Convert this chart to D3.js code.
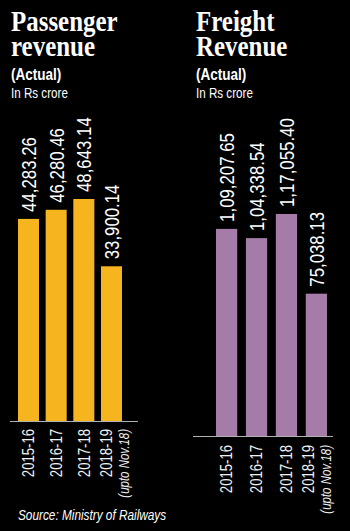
<!DOCTYPE html>
<html><head><meta charset="utf-8">
<script src="https://cdn.jsdelivr.net/npm/d3@7"></script>
<style>
html,body{margin:0;padding:0;background:#000;}
svg{display:block;}
.narrow{font-family:"Liberation Sans",Arial,Helvetica,sans-serif;}
.serif{font-family:"Liberation Serif","Times New Roman",serif;font-weight:bold;}
</style></head>
<body>
<script>
// ---- data ----
const categories = ["2015-16", "2016-17", "2017-18", "2018-19"];
const partialNote = "(upto Nov.18)";
const passengerValues = [44283.26, 46280.46, 48643.14, 33900.14];
const freightValues = [109207.65, 104338.54, 117055.40, 75038.13];
const passengerTitle = ["Passenger", "revenue"];
const freightTitle = ["Freight", "Revenue"];
const subtitle = "(Actual)";
const unitLabel = "In Rs crore";
const sourceText = "Source: Ministry of Railways";

// Indian number grouping, e.g. 1,09,207.65
function fmtIN(v){
  const s = v.toFixed(2);
  let [int, dec] = s.split(".");
  let last3 = int.slice(-3), rest = int.slice(0, -3);
  if (rest.length) rest = rest.replace(/\B(?=(\d{2})+(?!\d))/g, ",") + ",";
  return rest + last3 + "." + dec;
}

const W = 350, H = 531;
const NARROW = 0.82; // horizontal compression to mimic a condensed face
const svg = d3.select("body").append("svg").attr("width", W).attr("height", H);
svg.append("rect").attr("width", W).attr("height", H).attr("fill", "#000");

const panels = [
  {title: passengerTitle, values: passengerValues, color: "#f6b51f",
   tx: 11, xRange: [18, 122], pad: 0.24, base: 421, top: 199,
   axis: [10, 138], lblGap: 8, offA: -5, offB: 12},
  {title: freightTitle, values: freightValues, color: "#a57ba8",
   tx: 196, xRange: [216, 327], pad: 0.29, base: 436, top: 214,
   axis: [193, 333], lblGap: 9, offA: -8, offB: 10}
];

panels.forEach(p => {
  const g = svg.append("g");
  // title (two lines wrapped in one text)
  const tt = g.append("text").attr("class", "serif")
    .attr("transform", `translate(${p.tx},31) scale(0.86,1)`)
    .attr("font-size", 29).attr("fill", "#fff");
  p.title.forEach((t, i) => {
    tt.append("tspan").attr("x", 0).attr("y", i * 24.5).text(t);
  });
  g.append("text").attr("class", "narrow")
    .attr("transform", `translate(${p.tx},80) scale(${NARROW},1)`)
    .attr("font-size", 16.5).attr("font-weight", "bold").attr("fill", "#fff").text(subtitle);
  g.append("text").attr("class", "narrow")
    .attr("transform", `translate(${p.tx},98) scale(${NARROW},1)`)
    .attr("font-size", 14.2).attr("fill", "#fff").text(unitLabel);

  const x = d3.scaleBand().domain(categories).range(p.xRange).paddingInner(p.pad).paddingOuter(0);
  const y = d3.scaleLinear().domain([0, d3.max(p.values)]).range([p.base, p.top]);

  g.selectAll("rect.bar").data(p.values).join("rect").attr("class", "bar")
    .attr("x", (d, i) => x(categories[i])).attr("width", x.bandwidth())
    .attr("y", d => y(d)).attr("height", d => p.base - y(d)).attr("fill", p.color);

  // value labels
  g.selectAll("text.val").data(p.values).join("text").attr("class", "val narrow")
    .attr("transform", (d, i) => `translate(${x(categories[i]) + x.bandwidth() / 2},${y(d) - 7}) rotate(-90) scale(${NARROW},1)`)
    .attr("dy", "0.36em").attr("font-size", 20.5).attr("fill", "#fff").text(d => fmtIN(d));

  // axis line
  g.append("line").attr("x1", p.axis[0]).attr("x2", p.axis[1])
    .attr("y1", p.base + 0.5).attr("y2", p.base + 0.5).attr("stroke", "#b0b0b0").attr("stroke-width", 1);

  // category labels
  categories.forEach((c, i) => {
    const cx = x(c) + x.bandwidth() / 2;
    const last = i === categories.length - 1;
    g.append("text").attr("class", "narrow")
      .attr("transform", `translate(${cx + (last ? p.offA : 0)},${p.base + p.lblGap}) rotate(-90) scale(${NARROW},1)`)
      .attr("text-anchor", "end").attr("dy", "0.36em").attr("font-size", 16).attr("fill", "#f0f0f0").text(c);
    if (last) {
      g.append("text").attr("class", "narrow")
        .attr("transform", `translate(${cx + p.offB},${p.base + p.lblGap}) rotate(-90) scale(${NARROW},1)`)
        .attr("text-anchor", "end").attr("dy", "0.36em").attr("font-size", 14)
        .attr("font-style", "italic").attr("fill", "#f0f0f0").text(partialNote);
    }
  });
});

svg.append("text").attr("class", "narrow")
  .attr("transform", `translate(18,520) scale(${NARROW},1)`)
  .attr("font-size", 14.4).attr("font-style", "italic").attr("fill", "#fff").text(sourceText);
</script>
</body></html>
